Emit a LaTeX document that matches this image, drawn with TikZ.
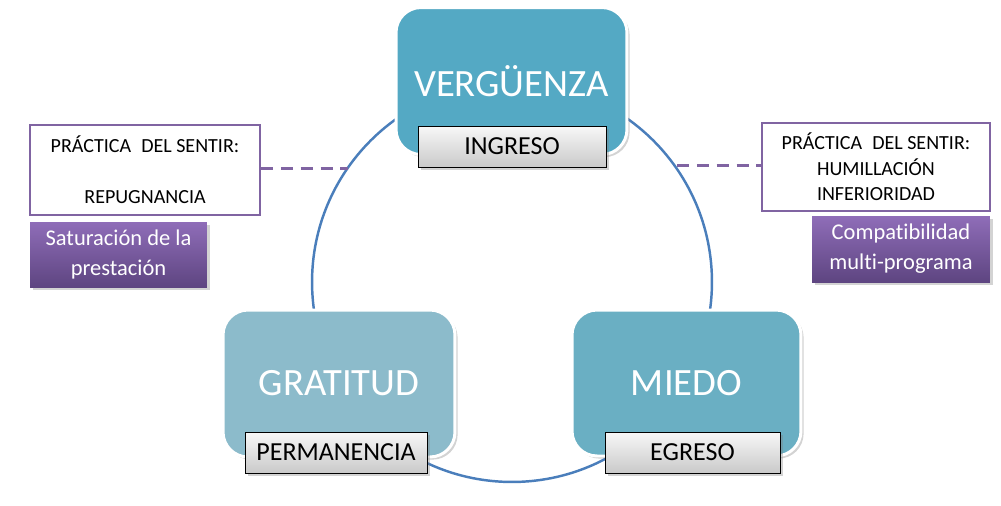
\documentclass[tikz,border=0pt]{standalone}
\usepackage{fontspec}
\setmainfont{Carlito}[Ligatures=NoCommon]
\usetikzlibrary{shadows}
\definecolor{ringblue}{HTML}{4A7EBB}
\definecolor{vergfill}{HTML}{54A9C4}
\definecolor{gratfill}{HTML}{8CBBCB}
\definecolor{miedofill}{HTML}{6AAFC3}
\definecolor{lila}{HTML}{8064A2}
\definecolor{lilatop}{HTML}{8F6DB8}
\definecolor{lilabot}{HTML}{5E4581}
\tikzset{
  emo/.style={rounded corners=0.5cm, draw=white, line width=1.7pt,
    text=white, inner sep=0pt, font=\fontsize{22}{26}\selectfont,
    drop shadow={shadow xshift=1.5pt, shadow yshift=-1.5pt, opacity=0.35}},
  fase/.style={draw=black, line width=0.5pt, top color=gray!6, bottom color=gray!42,
    inner sep=0pt, minimum height=0.82cm, font=\fontsize{14.8}{17}\selectfont,
    drop shadow={shadow xshift=1.5pt, shadow yshift=-1.5pt, opacity=0.35}},
  sentir/.style={draw=lila, line width=1.2pt, fill=white, inner sep=0pt,
    align=center, font=\fontsize{11.4}{14.5}\selectfont},
  rasgo/.style={top color=lilatop, bottom color=lilabot, text=white, inner sep=0pt,
    align=center, font=\fontsize{12.8}{17}\selectfont,
    drop shadow={shadow xshift=1.5pt, shadow yshift=-1.5pt, opacity=0.35}},
  enlace/.style={lila, line width=1.7pt, dash pattern=on 6.8pt off 4.5pt}
}
\begin{document}
\begin{tikzpicture}[x=0.02cm,y=-0.02cm]
  \useasboundingbox (0,0) rectangle (1001,505);
  % ring
  \coordinate (cen) at (512,282);
  \draw[ringblue, line width=1.4pt] (cen) circle [radius=4cm];
  \coordinate (lend) at (348,168);
  \coordinate (rend) at (677,165);
  % emotions
  \node[emo, fill=vergfill, minimum width=4.62cm, minimum height=2.94cm] (verg) at (511.5,81) {VERGÜENZA};
  \node[emo, fill=gratfill, minimum width=4.64cm, minimum height=2.94cm] (grat) at (339,383.5) {GRATITUD};
  \node[emo, fill=miedofill, minimum width=4.58cm, minimum height=2.92cm] (miedo) at (686.5,383) {MIEDO};
  % stages
  \node[fase, minimum width=3.76cm] (ingreso) at (512,146.5) {INGRESO};
  \node[fase, minimum width=3.64cm] (perm) at (336,452.5) {PERMANENCIA};
  \node[fase, minimum width=3.5cm] (egreso) at (692.5,452.5) {EGRESO};
  % side boxes
  \node[sentir, minimum width=4.6cm, minimum height=1.8cm] (lsent) at (145,170)
    {PRÁCTICA\hspace{0.5em}DEL SENTIR:\\ \mbox{}\\ REPUGNANCIA};
  \node[sentir, minimum width=4.56cm, minimum height=1.76cm] (rsent) at (876,167)
    {PRÁCTICA\hspace{0.5em}DEL SENTIR:\\ HUMILLACIÓN\\ INFERIORIDAD};
  \node[rasgo, minimum width=3.54cm, minimum height=1.3cm] (lsat) at (118.5,254.5)
    {Saturación de la\\ prestación};
  \node[rasgo, minimum width=3.56cm, minimum height=1.32cm] (rcomp) at (901,249)
    {Compatibilidad\\ multi-programa};
  \draw[enlace] (lsent.east |- lend) -- (lend);
  \draw[enlace] (rend) -- (rsent.west |- rend);
\end{tikzpicture}
\end{document}
